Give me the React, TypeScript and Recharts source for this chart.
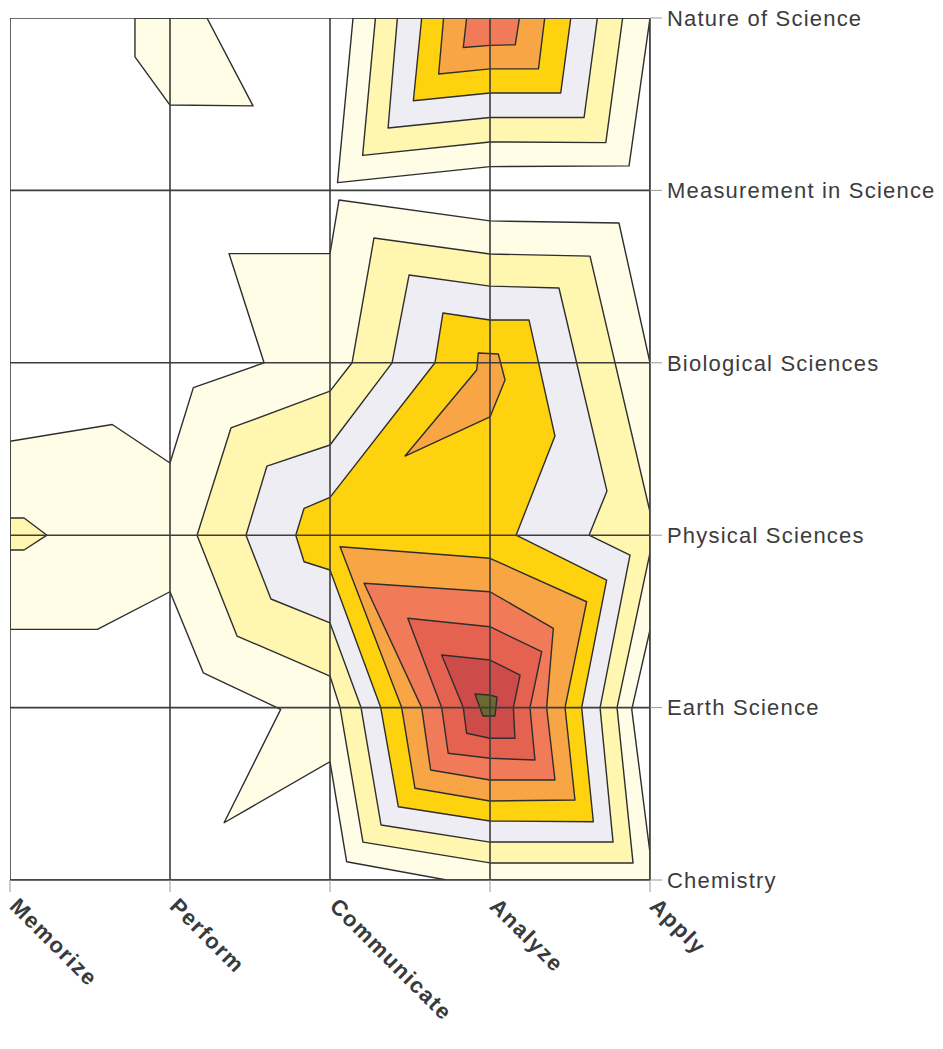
import { ScatterChart, Scatter, XAxis, YAxis } from "recharts";

// columns (x) and rows (y) of the surface
const skills = ["Memorize", "Perform", "Communicate", "Analyze", "Apply"];
const topics = [
  "Chemistry",
  "Earth Science",
  "Physical Sciences",
  "Biological Sciences",
  "Measurement in Science",
  "Nature of Science",
];

// band colours, lowest band first
const BAND_COLORS = [
  "#FFFDE6",
  "#FFF7B0",
  "#EEEDF3",
  "#FFD20F",
  "#F7A545",
  "#F17B58",
  "#E4624F",
  "#CD4C49",
  "#6B6A2C",
];

// band outlines as [skill position, topic position]
const band1Main = [
  [2.056, 3.944], [3, 3.823], [3.806, 3.811], [4, 3], [4, 1.45], [3.886, 0.99],
  [4, 0.157], [4, 0], [2.729, 0], [2.104, 0.106], [2, 0.686], [1.338, 0.332],
  [1.692, 0.99], [1.208, 1.202], [1, 1.672], [0.546, 1.454], [0, 1.454],
  [0, 2.545], [0.639, 2.642], [1, 2.419], [1.146, 2.856], [1.588, 3],
  [1.369, 3.633], [2, 3.633],
];
const band1Top = [[2.144, 5], [2.047, 4.045], [3, 4.138], [3.869, 4.142], [4, 5]];
const band1Spike = [[0.781, 5], [0.781, 4.774], [1, 4.495], [1.519, 4.49], [1.231, 5]];

const band2Main = [
  [2.275, 3.724], [3, 3.631], [3.625, 3.619], [4, 2.135], [4, 1.897], [3.794, 1],
  [3.894, 0.099], [3, 0.099], [2.206, 0.22], [2.063, 1], [2, 1.183],
  [1.419, 1.415], [1.169, 2], [1.381, 2.622], [2, 2.836], [2.138, 3],
];
const band2Top = [[2.284, 5], [2.204, 4.203], [3, 4.281], [3.724, 4.277], [3.829, 5]];
const band2Left = [[0, 2.1], [0.088, 2.1], [0.231, 2], [0.088, 1.914], [0, 1.914]];

const band3Main = [
  [2.494, 3.509], [3, 3.445], [3.431, 3.434], [3.731, 2.256], [3.619, 2],
  [3.875, 1.885], [3.688, 1], [3.769, 0.22], [3, 0.22], [2.319, 0.319],
  [2.194, 1], [2, 1.491], [1.631, 1.63], [1.475, 2], [1.606, 2.401],
  [2, 2.523], [2.388, 3],
];
const band3Top = [[2.421, 5], [2.363, 4.362], [3, 4.423], [3.588, 4.423], [3.671, 5]];

const band4Main = [
  [2.706, 3.289], [3, 3.248], [3.244, 3.248], [3.406, 2.575], [3.163, 2],
  [3.729, 1.74], [3.573, 1], [3.646, 0.338], [3, 0.342], [2.427, 0.425],
  [2.317, 1], [2, 1.798], [1.838, 1.846], [1.786, 2], [1.838, 2.156],
  [2, 2.219], [2.656, 3],
];
const band4Top = [[2.573, 5], [2.521, 4.52], [3, 4.565], [3.442, 4.565], [3.505, 5]];

const band5Main = [
  [2.063, 1.933], [3, 1.866], [3.604, 1.614], [3.469, 1], [3.531, 0.464],
  [3, 0.458], [2.531, 0.532], [2.448, 1],
];
const band5Spike = [
  [2.469, 2.459], [2.917, 2.958], [2.927, 3.057], [3.052, 3.051], [3.094, 2.9], [3, 2.686],
];
const band5Top = [[2.71, 5], [2.679, 4.675], [3, 4.705], [3.303, 4.705], [3.342, 5]];

const band6Main = [
  [2.213, 1.721], [3, 1.672], [3.396, 1.46], [3.354, 1], [3.406, 0.58],
  [3, 0.58], [2.629, 0.638], [2.573, 1],
];
const band6Top = [[2.854, 5], [2.833, 4.829], [3, 4.841], [3.158, 4.845], [3.184, 5]];

const band7Main = [
  [2.486, 1.518], [3, 1.469], [3.323, 1.324], [3.25, 1], [3.281, 0.696],
  [3, 0.706], [2.739, 0.735], [2.698, 1],
];
const band8Main = [
  [2.698, 1.305], [3, 1.276], [3.188, 1.189], [3.146, 1], [3.156, 0.822],
  [3, 0.822], [2.854, 0.851], [2.833, 1],
];
const band9Main = [[2.906, 1.079], [3, 1.073], [3.044, 1.061], [3.031, 0.951], [2.956, 0.951]];

// painted lowest band first so the higher ones sit on top
const contours = [
  { band: 0, outline: band1Main },
  { band: 0, outline: band1Top },
  { band: 0, outline: band1Spike },
  { band: 1, outline: band2Main },
  { band: 1, outline: band2Top },
  { band: 1, outline: band2Left },
  { band: 2, outline: band3Main },
  { band: 2, outline: band3Top },
  { band: 3, outline: band4Main },
  { band: 3, outline: band4Top },
  { band: 4, outline: band5Main },
  { band: 4, outline: band5Spike },
  { band: 4, outline: band5Top },
  { band: 5, outline: band6Main },
  { band: 5, outline: band6Top },
  { band: 6, outline: band7Main },
  { band: 7, outline: band8Main },
  { band: 8, outline: band9Main },
];

const toPoints = (outline: number[][]) => outline.map(([x, y]) => ({ x, y }));

// grid lines as pairs of end points
const gridPoints = [
  ...skills.flatMap((_, i) => [{ x: i, y: 0 }, { x: i, y: topics.length - 1 }]),
  ...topics.flatMap((_, j) => [{ x: 0, y: j }, { x: skills.length - 1, y: j }]),
];

const FONT = "'Liberation Sans', Arial, Helvetica, sans-serif";

// filled polygon drawn from the scatter's joined points
const polygon = (fill: string) => (props: any) => {
  const pts = props.points || [];
  const d = pts.map((p: any, i: number) => `${i ? "L" : "M"}${p.x},${p.y}`).join("") + "Z";
  return <path d={d} fill={fill} stroke="#2e2e2e" strokeWidth={1.4} strokeLinejoin="round" />;
};

const gridLines = (props: any) => {
  const pts = props.points || [];
  let d = "";
  for (let i = 0; i + 1 < pts.length; i += 2) {
    d += `M${pts[i].x},${pts[i].y}L${pts[i + 1].x},${pts[i + 1].y}`;
  }
  return <path d={d} fill="none" stroke="#3d3d3d" strokeWidth={1.6} />;
};

const noDot = () => <g />;

const SkillTick = ({ x, y, payload }: any) => {
  const tx = x + 4;
  const ty = y + 8;
  return (
    <text
      x={tx}
      y={ty}
      transform={`rotate(45, ${tx}, ${ty})`}
      dy="0.35em"
      textAnchor="start"
      fontFamily={FONT}
      fontSize={22}
      fontWeight="bold"
      letterSpacing={1.5}
      fill="#3a3a3a"
    >
      {skills[payload.value]}
    </text>
  );
};

const TopicTick = ({ x, y, payload }: any) => (
  <text
    x={x}
    y={y}
    dy="0.35em"
    textAnchor="start"
    fontFamily={FONT}
    fontSize={22}
    letterSpacing={1.2}
    fill="#3c3c3c"
  >
    {topics[payload.value]}
  </text>
);

export default function App() {
  return (
    <div style={{ position: "absolute", left: 0, top: 0, background: "#fff" }}>
      <ScatterChart
        width={943}
        height={1049}
        margin={{ top: 18, right: 13, bottom: 109, left: 10 }}
      >
        <XAxis
          type="number"
          dataKey="x"
          domain={[0, 4]}
          ticks={[0, 1, 2, 3, 4]}
          interval={0}
          allowDataOverflow
          height={60}
          tickSize={12}
          tickLine={{ stroke: "#9a9a9a" }}
          axisLine={{ stroke: "#3d3d3d", strokeWidth: 1.6 }}
          tick={<SkillTick />}
        />
        <YAxis
          type="number"
          dataKey="y"
          orientation="right"
          domain={[0, 5]}
          ticks={[0, 1, 2, 3, 4, 5]}
          interval={0}
          allowDataOverflow
          width={280}
          tickSize={12}
          tickMargin={5}
          tickLine={{ stroke: "#9a9a9a" }}
          axisLine={{ stroke: "#3d3d3d", strokeWidth: 1.6 }}
          tick={<TopicTick />}
        />
        {contours.map((c, i) => (
          <Scatter
            key={`band-${i}`}
            data={toPoints(c.outline)}
            line={polygon(BAND_COLORS[c.band])}
            lineType="joint"
            shape={noDot}
            isAnimationActive={false}
          />
        ))}
        <Scatter
          data={gridPoints}
          line={gridLines}
          lineType="joint"
          shape={noDot}
          isAnimationActive={false}
        />
      </ScatterChart>
    </div>
  );
}
